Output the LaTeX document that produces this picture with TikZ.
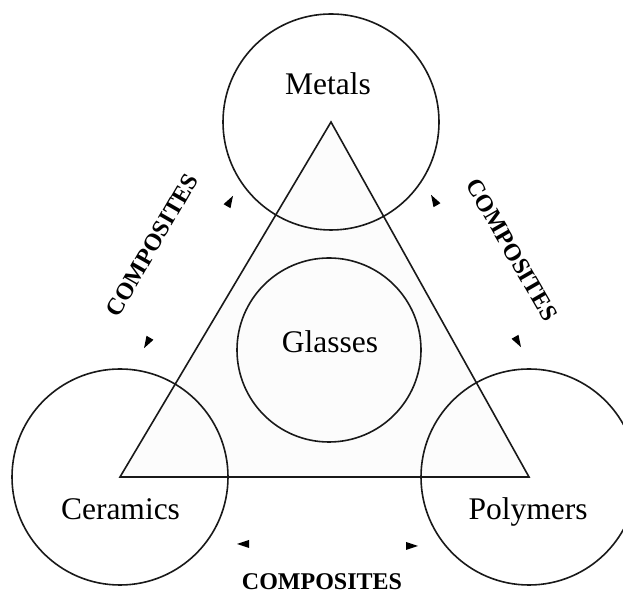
\documentclass[tikz,border=0pt]{standalone}
\usepackage{fontspec}
\setmainfont{Liberation Serif}
\tikzset{
  outline/.style={line width=1.6pt, black!90},
  matlabel/.style={font=\fontsize{31.5}{36}\selectfont, anchor=base, inner sep=0pt},
  complabel/.style={font=\bfseries\fontsize{24}{28}\selectfont, inner sep=0pt},
  arrowhead/.style={fill=black}
}
\begin{document}
\begin{tikzpicture}[x=1pt, y=1pt]
    \useasboundingbox (0, 0) rectangle (623, 593);

    \coordinate (cer) at (120, 116);
    \coordinate (pol) at (529, 116);
    \coordinate (met) at (331, 471);
    \coordinate (gla) at (329, 243);

    % the triangle
    \draw[outline, fill=black!1] (cer) -- (pol) -- (met) -- cycle;

    \draw[outline] (met) circle (108pt);
    \draw[outline] (cer) circle (108pt);
    \draw[outline] (pol) circle (108pt);
    \draw[outline] (gla) circle (92pt);

    \node[matlabel] (metals) at (328, 498) {Metals};
    \node[matlabel] (ceramics) at (120.5, 73) {Ceramics};
    \node[matlabel] (polymers) at (528, 73) {Polymers};
    \node[matlabel] (glasses) at (330, 240) {Glasses};

    % composites between the corners
    \node[complabel, rotate=60] (compl) at (152, 348) {COMPOSITES};
    \node[complabel, rotate=-60] (compr) at (512, 343) {COMPOSITES};
    \node[complabel] (compb) at (322, 11) {COMPOSITES};

    \fill[arrowhead, shift={(230, 392)}, rotate=60] (6, 0) -- (-6, 4) -- (-6, -4) -- cycle;
    \fill[arrowhead, shift={(147, 250)}, rotate=240] (6, 0) -- (-6, 4) -- (-6, -4) -- cycle;
    \fill[arrowhead, shift={(434, 393)}, rotate=120] (6, 0) -- (-6, 4) -- (-6, -4) -- cycle;
    \fill[arrowhead, shift={(518, 251)}, rotate=300] (6, 0) -- (-6, 4) -- (-6, -4) -- cycle;
    \fill[arrowhead, shift={(243, 49)}, rotate=180] (6, 0) -- (-6, 4) -- (-6, -4) -- cycle;
    \fill[arrowhead, shift={(412, 47)}, rotate=0] (6, 0) -- (-6, 4) -- (-6, -4) -- cycle;
\end{tikzpicture}
\end{document}
